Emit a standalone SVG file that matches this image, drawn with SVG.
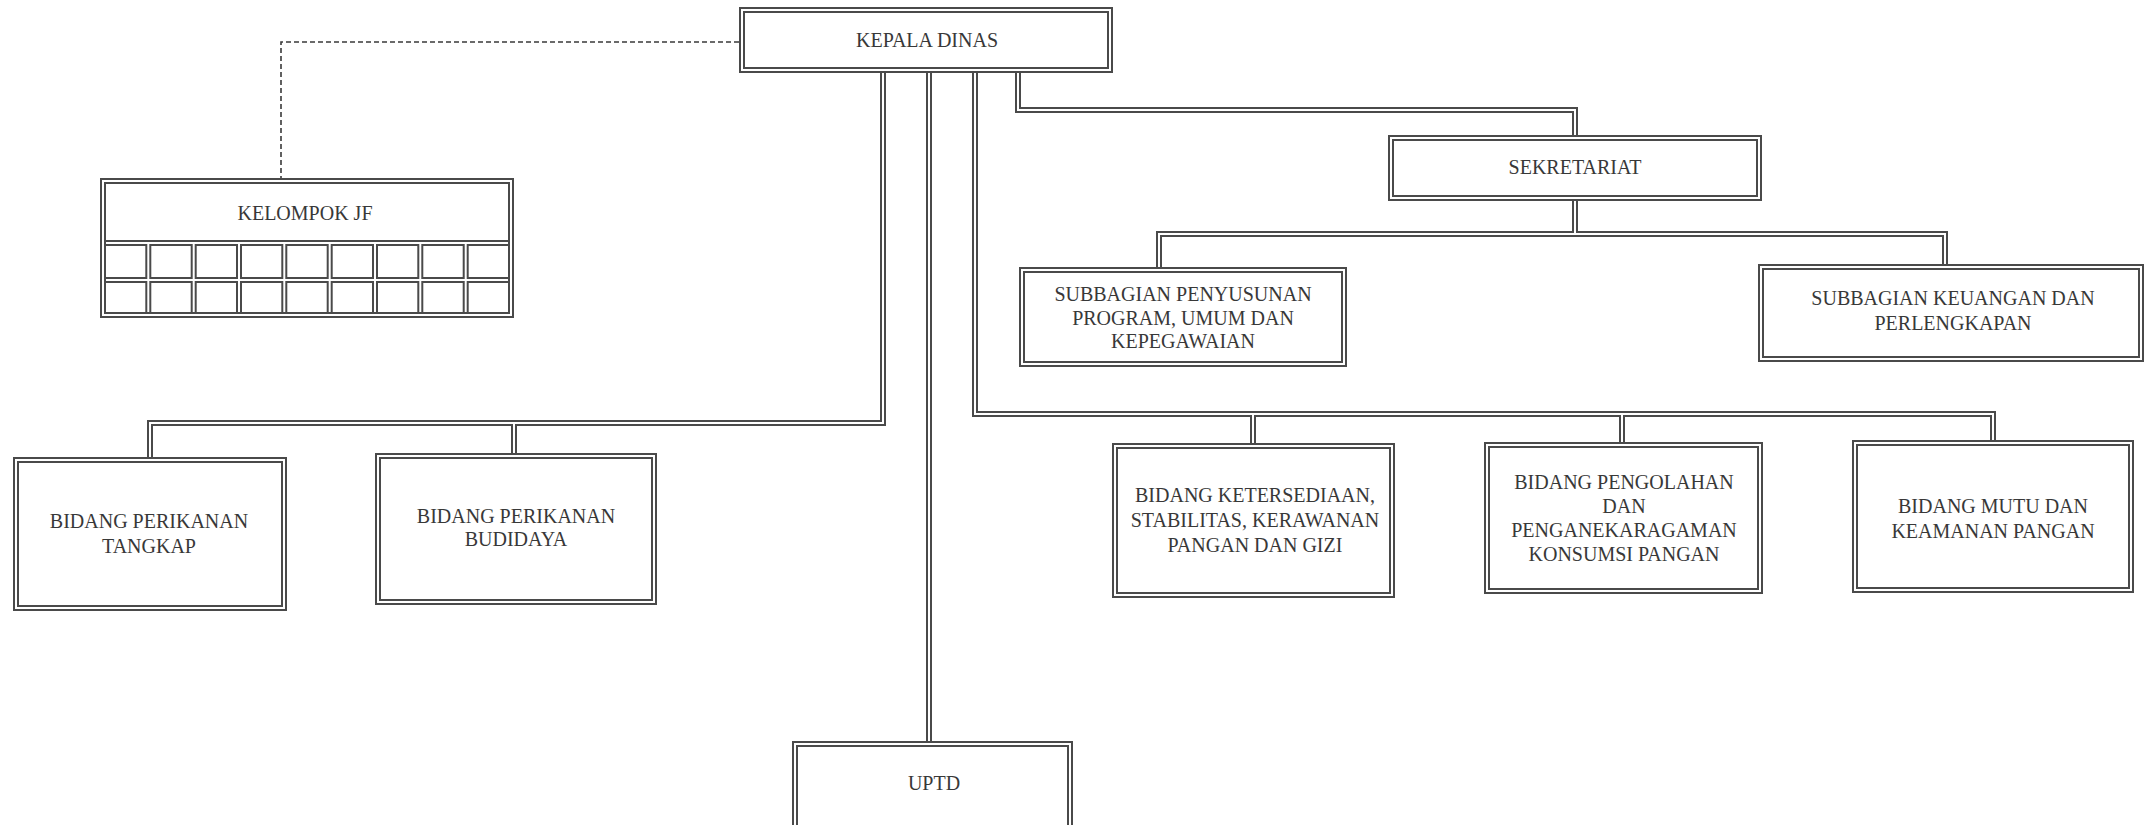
<svg xmlns="http://www.w3.org/2000/svg" width="2146" height="825" viewBox="0 0 2146 825">
<style>
.o{fill:none;stroke:#4a4a4a;stroke-width:6;stroke-linejoin:miter}
.i{fill:none;stroke:#fff;stroke-width:2;stroke-linejoin:miter}
.box{fill:#fff;stroke:#4a4a4a;stroke-width:6}
.t{font-family:"Liberation Serif","Times New Roman",serif;font-size:20px;fill:#383838;text-anchor:middle}
.dash{fill:none;stroke:#3a3a3a;stroke-width:1.6;stroke-dasharray:5 3}
</style>
<rect width="2146" height="825" fill="#fff"/>
<g id="connectors">
  <path class="dash" d="M739 42 H281 V179"/>
  <g class="o">
    <path d="M1018 70 V110 H1575 V140"/>
    <path d="M1575 198 V234"/>
    <path d="M1159 270 V234 H1945 V267"/>
    <path d="M883 70 V423 H150 V460"/>
    <path d="M514 423 V456"/>
    <path d="M929 70 V746"/>
    <path d="M975 70 V414 H1993 V443"/>
    <path d="M1253 414 V446"/>
    <path d="M1622 414 V445"/>
  </g>
  <g class="i">
    <path d="M1018 70 V110 H1575 V140"/>
    <path d="M1575 198 V234"/>
    <path d="M1159 270 V234 H1945 V267"/>
    <path d="M883 70 V423 H150 V460"/>
    <path d="M514 423 V456"/>
    <path d="M929 70 V746"/>
    <path d="M975 70 V414 H1993 V443"/>
    <path d="M1253 414 V446"/>
    <path d="M1622 414 V445"/>
  </g>
</g>
<g id="kepala-dinas">
  <rect class="box" x="742" y="10" width="368" height="60"/>
  <rect class="i" x="742" y="10" width="368" height="60"/>
  <text class="t" x="927" y="47">KEPALA DINAS</text>
</g>
<g id="kelompok-jf">
  <rect class="box" x="103" y="181" width="408" height="134"/>
  <g class="o">
    <path d="M103 243 H511 M103 280 H511 M148.3 243 V315 M193.7 243 V315 M239 243 V315 M284.3 243 V315 M329.7 243 V315 M375 243 V315 M420.3 243 V315 M465.7 243 V315"/>
  </g>
  <rect class="i" x="103" y="181" width="408" height="134"/>
  <g class="i">
    <path d="M106 243 H508 M106 280 H508 M148.3 243 V312 M193.7 243 V312 M239 243 V312 M284.3 243 V312 M329.7 243 V312 M375 243 V312 M420.3 243 V312 M465.7 243 V312"/>
  </g>
  <text class="t" x="305" y="220">KELOMPOK JF</text>
</g>
<g id="sekretariat">
  <rect class="box" x="1391" y="138" width="368" height="60"/>
  <rect class="i" x="1391" y="138" width="368" height="60"/>
  <text class="t" x="1575" y="174">SEKRETARIAT</text>
</g>
<g id="subbagian-penyusunan">
  <rect class="box" x="1022" y="270" width="322" height="94"/>
  <rect class="i" x="1022" y="270" width="322" height="94"/>
  <text class="t" x="1183" y="301">SUBBAGIAN PENYUSUNAN</text>
  <text class="t" x="1183" y="325">PROGRAM, UMUM DAN</text>
  <text class="t" x="1183" y="348">KEPEGAWAIAN</text>
</g>
<g id="subbagian-keuangan">
  <rect class="box" x="1761" y="267" width="380" height="92"/>
  <rect class="i" x="1761" y="267" width="380" height="92"/>
  <text class="t" x="1953" y="305">SUBBAGIAN KEUANGAN DAN</text>
  <text class="t" x="1953" y="330">PERLENGKAPAN</text>
</g>
<g id="bidang-perikanan-tangkap">
  <rect class="box" x="16" y="460" width="268" height="148"/>
  <rect class="i" x="16" y="460" width="268" height="148"/>
  <text class="t" x="149" y="528">BIDANG PERIKANAN</text>
  <text class="t" x="149" y="553">TANGKAP</text>
</g>
<g id="bidang-perikanan-budidaya">
  <rect class="box" x="378" y="456" width="276" height="146"/>
  <rect class="i" x="378" y="456" width="276" height="146"/>
  <text class="t" x="516" y="523">BIDANG PERIKANAN</text>
  <text class="t" x="516" y="546">BUDIDAYA</text>
</g>
<g id="bidang-ketersediaan">
  <rect class="box" x="1115" y="446" width="277" height="149"/>
  <rect class="i" x="1115" y="446" width="277" height="149"/>
  <text class="t" x="1255" y="502">BIDANG KETERSEDIAAN,</text>
  <text class="t" x="1255" y="527">STABILITAS, KERAWANAN</text>
  <text class="t" x="1255" y="552">PANGAN DAN GIZI</text>
</g>
<g id="bidang-pengolahan">
  <rect class="box" x="1487" y="445" width="273" height="146"/>
  <rect class="i" x="1487" y="445" width="273" height="146"/>
  <text class="t" x="1624" y="489">BIDANG PENGOLAHAN</text>
  <text class="t" x="1624" y="513">DAN</text>
  <text class="t" x="1624" y="537">PENGANEKARAGAMAN</text>
  <text class="t" x="1624" y="561">KONSUMSI PANGAN</text>
</g>
<g id="bidang-mutu">
  <rect class="box" x="1855" y="443" width="276" height="147"/>
  <rect class="i" x="1855" y="443" width="276" height="147"/>
  <text class="t" x="1993" y="513">BIDANG MUTU DAN</text>
  <text class="t" x="1993" y="538">KEAMANAN PANGAN</text>
</g>
<g id="uptd">
  <rect class="box" x="795" y="744" width="275" height="95"/>
  <rect class="i" x="795" y="744" width="275" height="95"/>
  <text class="t" x="934" y="790">UPTD</text>
</g>
</svg>
